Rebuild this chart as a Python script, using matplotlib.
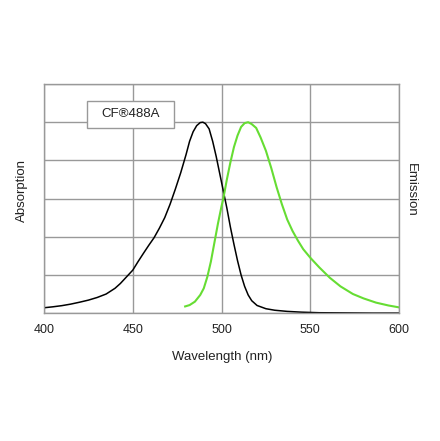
import matplotlib
matplotlib.use("Agg")
import matplotlib.pyplot as plt
from matplotlib.patches import Rectangle

plt.rcParams['font.family'] = ['Liberation Sans', 'DejaVu Sans']

# Absorption spectrum (normalised)
abs_wl = [400, 405, 410, 415, 420, 425, 430, 435, 440, 443, 446, 450, 453,
          456, 459, 462, 465, 468, 471, 474, 477, 480, 482, 484, 486, 488,
          489.5, 491, 493, 495, 497, 499, 501, 503, 505, 507, 509, 511, 513,
          515, 517, 520, 525, 530, 537, 545, 555, 570, 585, 600]
abs_val = [0.028, 0.033, 0.039, 0.047, 0.057, 0.068, 0.082, 0.10, 0.13,
           0.155, 0.185, 0.225, 0.27, 0.313, 0.355, 0.395, 0.445, 0.50, 0.57,
           0.65, 0.735, 0.83, 0.90, 0.95, 0.982, 0.998, 1.0, 0.992, 0.965,
           0.90, 0.82, 0.73, 0.64, 0.55, 0.45, 0.36, 0.275, 0.20, 0.14, 0.095,
           0.065, 0.04, 0.023, 0.015, 0.009, 0.005, 0.002, 0.001, 0.0, 0.0]

# Emission spectrum (normalised)
em_wl = [479.5, 482, 485, 488, 490, 492, 494, 496, 498, 500, 501, 503, 505,
         507, 509, 511, 513, 515, 517, 519.5, 522, 525, 528, 531, 534, 537,
         540, 543, 546, 550, 555, 561, 567, 574, 580, 587, 594, 600]
em_val = [0.035, 0.042, 0.06, 0.095, 0.13, 0.19, 0.27, 0.37, 0.47, 0.56,
          0.60, 0.70, 0.79, 0.87, 0.93, 0.975, 0.995, 1.0, 0.99, 0.97, 0.92,
          0.85, 0.76, 0.66, 0.57, 0.49, 0.43, 0.38, 0.335, 0.29, 0.24, 0.185,
          0.14, 0.10, 0.077, 0.055, 0.04, 0.03]

x_ticks = [400, 450, 500, 550, 600]
y_grid = [0, 0.2, 0.4, 0.6, 0.8, 1.0, 1.2]

fig = plt.figure(figsize=(4.4, 4.41), dpi=100)
ax = fig.add_axes([0.1, 0.29, 0.807, 0.5195])

ax.plot(abs_wl, abs_val, color='black', lw=1.1, solid_joinstyle='round')
ax.plot(em_wl, em_val, color='#66dd33', lw=1.5, solid_joinstyle='round')

ax.set_xlim(400, 600)
ax.set_ylim(0, 1.2)
ax.set_xticks(x_ticks)
ax.set_yticks(y_grid)
ax.set_yticklabels([])
ax.tick_params(length=0, labelsize=9, pad=8, colors='#222222')
ax.grid(True, color='#999999', lw=1.0)
ax.set_axisbelow(True)
for s in ax.spines.values():
    s.set_color('#999999')
    s.set_linewidth(1.0)

fig.text(222 / 440, 1 - 357 / 441, "Wavelength (nm)", fontsize=9.5,
         ha='center', va='center', color='#222222')
fig.text(22 / 440, 1 - 191 / 441, "Absorption", fontsize=9.5, rotation=90,
         ha='center', va='center', color='#222222')
fig.text(411 / 440, 1 - 190 / 441, "Emission", fontsize=9.5, rotation=-90,
         ha='center', va='center', color='#222222')

# label box
ax.add_patch(Rectangle((0.12, 0.807), 0.246, 0.12, transform=ax.transAxes,
                       fc='white', ec='#999999', lw=1.0, zorder=3))
ax.text(0.243, 0.867, "CF®488A", transform=ax.transAxes, fontsize=9.5,
        ha='center', va='center', color='#222222', zorder=4)

fig.savefig("out.png", dpi=100)
